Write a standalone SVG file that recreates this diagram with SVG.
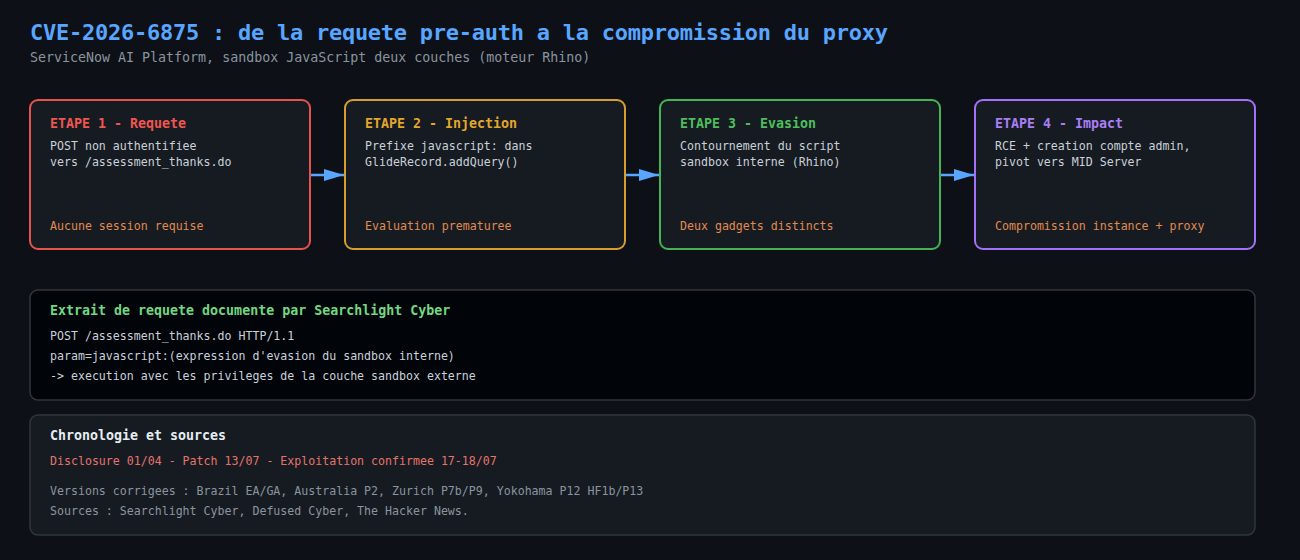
<svg xmlns="http://www.w3.org/2000/svg" width="1300" height="560" viewBox="0 0 1300 560">
  <defs>
    <marker id="arrow" markerUnits="userSpaceOnUse" markerWidth="20" markerHeight="12" refX="20" refY="6" orient="auto">
      <path d="M0,0 L20,6 L0,12 z" fill="#58a6ff"/>
    </marker>
    <style>
      text { font-family: "DejaVu Sans Mono", "Liberation Mono", monospace; }
      .title { font-size: 22px; font-weight: bold; fill: #58a6ff; letter-spacing: -0.25px; }
      .subtitle { font-size: 13.3px; fill: #8b949e; }
      .step { fill: #161b22; stroke-width: 2; }
      .stitle { font-size: 13.3px; font-weight: bold; }
      .body { font-size: 11.6px; fill: #c9d1d9; }
      .foot { font-size: 11.6px; fill: #e08b4f; }
      .conn { stroke: #58a6ff; stroke-width: 2.5; fill: none; }
      .panel { stroke: #30363d; stroke-width: 1.5; }
      .code { font-size: 11.6px; fill: #c9d1d9; }
      .gray { font-size: 11.6px; fill: #8b949e; }
    </style>
  </defs>
  <rect x="0" y="0" width="1300" height="560" fill="#0d1117"/>

  <text class="title" x="30" y="40">CVE-2026-6875 : de la requete pre-auth a la compromission du proxy</text>
  <text class="subtitle" x="30" y="62">ServiceNow AI Platform, sandbox JavaScript deux couches (moteur Rhino)</text>

  <g id="step1">
    <rect class="step" x="30" y="100" width="280" height="149" rx="8" stroke="#e5534b"/>
    <text class="stitle" x="50" y="128" fill="#f0564f">ETAPE 1 - Requete</text>
    <text class="body" x="50" y="150">POST non authentifiee</text>
    <text class="body" x="50" y="166">vers /assessment_thanks.do</text>
    <text class="foot" x="50" y="230">Aucune session requise</text>
  </g>
  <g id="step2">
    <rect class="step" x="345" y="100" width="280" height="149" rx="8" stroke="#d69e2e"/>
    <text class="stitle" x="365" y="128" fill="#e3a72c">ETAPE 2 - Injection</text>
    <text class="body" x="365" y="150">Prefixe javascript: dans</text>
    <text class="body" x="365" y="166">GlideRecord.addQuery()</text>
    <text class="foot" x="365" y="230">Evaluation prematuree</text>
  </g>
  <g id="step3">
    <rect class="step" x="660" y="100" width="280" height="149" rx="8" stroke="#46b254"/>
    <text class="stitle" x="680" y="128" fill="#4cbf5c">ETAPE 3 - Evasion</text>
    <text class="body" x="680" y="150">Contournement du script</text>
    <text class="body" x="680" y="166">sandbox interne (Rhino)</text>
    <text class="foot" x="680" y="230">Deux gadgets distincts</text>
  </g>
  <g id="step4">
    <rect class="step" x="975" y="100" width="280" height="149" rx="8" stroke="#a371f7"/>
    <text class="stitle" x="995" y="128" fill="#a97ff5">ETAPE 4 - Impact</text>
    <text class="body" x="995" y="150">RCE + creation compte admin,</text>
    <text class="body" x="995" y="166">pivot vers MID Server</text>
    <text class="foot" x="995" y="230">Compromission instance + proxy</text>
  </g>

  <g id="connectors">
    <line class="conn" x1="311" y1="175" x2="344" y2="175" marker-end="url(#arrow)"/>
    <line class="conn" x1="626" y1="175" x2="659" y2="175" marker-end="url(#arrow)"/>
    <line class="conn" x1="941" y1="175" x2="974" y2="175" marker-end="url(#arrow)"/>
  </g>

  <g id="code-extract">
    <rect class="panel" x="30" y="290" width="1225" height="110" rx="8" fill="#010409"/>
    <text x="50" y="315" font-size="13.3" font-weight="bold" fill="#72d883">Extrait de requete documente par Searchlight Cyber</text>
    <text class="code" x="50" y="340">POST /assessment_thanks.do HTTP/1.1</text>
    <text class="code" x="50" y="360">param=javascript:(expression d'evasion du sandbox interne)</text>
    <text class="code" x="50" y="380">-&gt; execution avec les privileges de la couche sandbox externe</text>
  </g>

  <g id="chronology">
    <rect class="panel" x="30" y="415" width="1225" height="120" rx="8" fill="#161b22"/>
    <text x="50" y="440" font-size="13.3" font-weight="bold" fill="#e6edf3">Chronologie et sources</text>
    <text x="50" y="465" font-size="11.6" fill="#e5736b">Disclosure 01/04 - Patch 13/07 - Exploitation confirmee 17-18/07</text>
    <text class="gray" x="50" y="495">Versions corrigees : Brazil EA/GA, Australia P2, Zurich P7b/P9, Yokohama P12 HF1b/P13</text>
    <text class="gray" x="50" y="515">Sources : Searchlight Cyber, Defused Cyber, The Hacker News.</text>
  </g>
</svg>
